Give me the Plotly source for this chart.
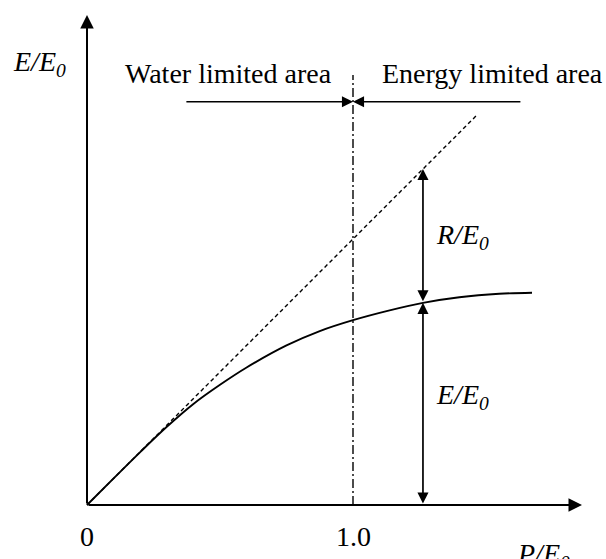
import plotly.graph_objects as go

# ---- data (dimensionless P/E0 vs E/E0) ----
curve_x = [0.0, 0.1, 0.2, 0.3, 0.4, 0.5, 0.6, 0.75, 0.875, 1.0, 1.13, 1.263, 1.4, 1.55, 1.673]
curve_y = [0.0, 0.1, 0.199, 0.294, 0.380, 0.452, 0.517, 0.600, 0.654, 0.695, 0.730, 0.760, 0.781, 0.794, 0.798]
limit_x = [0.0, 1.47]          # energy limit line E = P
limit_y = [0.0, 1.47]
divide_x = 1.0                 # P/E0 = 1 boundary
probe_x = 1.263                # location of R / E partition arrows
tick_vals = [0.0, 1.0]
tick_text = ["0", "1.0"]
x_axis_end = 1.861
y_axis_end = 1.842
zone_arrow_y = 1.516
zone_left_start = 0.368
zone_right_start = 1.635
divide_top = 1.617

FONT = "Times New Roman, Liberation Serif, serif"
FS = 28

# pixel mapping helpers (origin at 87,505 ; 266 px per unit)
PX = 266.0
X0, Y0 = 87.0, 505.0
W, H = 606, 559

fig = go.Figure()

fig.add_trace(go.Scatter(x=limit_x, y=limit_y, mode="lines",
                         line=dict(color="black", width=1.4, dash="4px,3px"),
                         hoverinfo="skip", showlegend=False))
fig.add_trace(go.Scatter(x=[divide_x, divide_x], y=[0, divide_top], mode="lines",
                         line=dict(color="black", width=1.4, dash="9px,3px,2px,3px"),
                         hoverinfo="skip", showlegend=False))
fig.add_trace(go.Scatter(x=curve_x, y=curve_y, mode="lines",
                         line=dict(color="black", width=1.9, shape="spline", smoothing=1.0),
                         hoverinfo="skip", showlegend=False))

def arrow(x, y, ax, ay, both=False, w=1.7, size=1.3):
    d = dict(x=x, y=y, ax=ax, ay=ay, xref="x", yref="y", axref="x", ayref="y",
             text="", showarrow=True, arrowhead=2, arrowsize=size, arrowwidth=w,
             arrowcolor="black", standoff=0, startstandoff=0)
    if both:
        d.update(arrowside="end+start", startarrowhead=2, startarrowsize=size)
    fig.add_annotation(**d)

# axes
arrow(x_axis_end, 0, 0, 0, w=2, size=1.35)
arrow(0, y_axis_end, 0, 0, w=2, size=1.35)
# zone arrows
arrow(divide_x, zone_arrow_y, zone_left_start, zone_arrow_y)
arrow(divide_x, zone_arrow_y, zone_right_start, zone_arrow_y)
# partition arrows
probe_curve = curve_y[curve_x.index(probe_x)]
arrow(probe_x, probe_x, probe_x, probe_curve, both=True)
arrow(probe_x, probe_curve, probe_x, 0, both=True)

def px2d(px, py):
    return (px - X0) / PX, (Y0 - py) / PX

def label(txt, px, py, xa="center", ya="middle"):
    x, y = px2d(px, py)
    fig.add_annotation(x=x, y=y, xref="x", yref="y", text=txt, showarrow=False,
                       xanchor=xa, yanchor=ya,
                       font=dict(family=FONT, size=FS, color="black"))

label("Water limited area", 228, 73)
label("Energy limited area", 492, 73)
label("<i>E/E<sub>0</sub></i>", 11, 63, xa="left")
label("<i>R/E<sub>0</sub></i>", 434, 236, xa="left")
label("<i>E/E<sub>0</sub></i>", 434, 396, xa="left")
label("<i>P/E<sub>0</sub></i>", 515, 555, xa="left")
for v, t in zip(tick_vals, tick_text):
    label(t, X0 + v * PX, 536)

fig.update_layout(
    width=W, height=H, autosize=False,
    margin=dict(l=0, r=0, t=0, b=0),
    paper_bgcolor="white", plot_bgcolor="white",
    xaxis=dict(visible=False, range=[-X0 / PX, (W - X0) / PX], fixedrange=True),
    yaxis=dict(visible=False, range=[(Y0 - H) / PX, Y0 / PX], fixedrange=True),
    showlegend=False,
)

fig.write_html("out.html")
